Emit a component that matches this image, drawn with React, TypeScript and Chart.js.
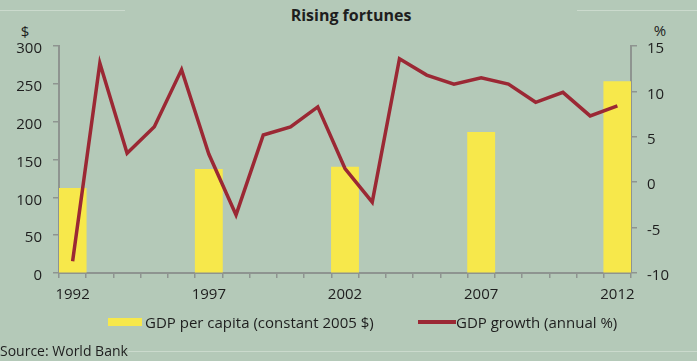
import React, { useEffect, useRef } from "react";
import { Chart, registerables } from "chart.js";

Chart.register(...registerables);

const years = [
  "1992", "1993", "1994", "1995", "1996", "1997", "1998", "1999", "2000", "2001",
  "2002", "2003", "2004", "2005", "2006", "2007", "2008", "2009", "2010", "2011", "2012",
];
const gdpPerCapita: (number | null)[] = [
  112, null, null, null, null, 137, null, null, null, null,
  140, null, null, null, null, 186, null, null, null, null, 253,
];
const gdpGrowth = [
  -8.7, 13.1, 3.2, 6.1, 12.4, 3.1, -3.6, 5.2, 6.1, 8.3,
  1.5, -2.2, 13.6, 11.8, 10.8, 11.5, 10.8, 8.8, 9.9, 7.3, 8.4,
];
const leftTicks = [0, 300, 50];
const rightTicks = [-10, 15, 5];

const BG = "#b4c9b8";
const YELLOW = "#f7e84b";
const RED = "#9b2834";
const AXIS = "#8e9490";
const TEXT = "#1e1e1e";
const FONT = "'Open Sans', sans-serif";

export default function App() {
  const ref = useRef<HTMLCanvasElement | null>(null);

  useEffect(() => {
    document.body.style.margin = "0";
    const canvas = ref.current;
    if (!canvas) return;
    const chart = new Chart(canvas, {
      type: "bar",
      data: {
        labels: years,
        datasets: [
          {
            type: "bar",
            label: "GDP per capita (constant 2005 $)",
            data: gdpPerCapita,
            backgroundColor: YELLOW,
            borderWidth: 0,
            barPercentage: 1,
            categoryPercentage: 1,
            yAxisID: "y",
            order: 2,
          },
          {
            type: "line",
            label: "GDP growth (annual %)",
            data: gdpGrowth,
            borderColor: RED,
            borderWidth: 3.5,
            pointRadius: 0,
            tension: 0,
            fill: false,
            yAxisID: "y1",
            order: 1,
          },
        ],
      },
      options: {
        animation: false,
        responsive: false,
        maintainAspectRatio: false,
        layout: { padding: { top: 46, left: 0, right: 0, bottom: 0 } },
        plugins: {
          legend: { display: false },
          title: { display: false },
          tooltip: { enabled: false },
        },
        scales: {
          x: {
            offset: true,
            grid: {
              offset: true,
              drawOnChartArea: false,
              drawTicks: true,
              tickLength: 5,
              color: AXIS,
              lineWidth: 1.5,
            },
            border: { display: true, color: AXIS, width: 2 },
            ticks: {
              autoSkip: false,
              maxRotation: 0,
              padding: 8,
              color: TEXT,
              font: { family: FONT, size: 15 },
              callback: (_v: any, i: number) => (i % 5 === 0 ? years[i] : ""),
            },
            afterFit: (s: any) => {
              s.height = 88;
            },
          },
          y: {
            position: "left",
            min: leftTicks[0],
            max: leftTicks[1],
            grid: {
              drawOnChartArea: false,
              drawTicks: true,
              tickLength: 6,
              color: AXIS,
              lineWidth: 1.5,
            },
            border: { display: true, color: AXIS, width: 2 },
            ticks: {
              stepSize: leftTicks[2],
              padding: 11,
              labelOffset: 3,
              color: TEXT,
              font: { family: FONT, size: 15 },
            },
            afterFit: (s: any) => {
              s.width = 59;
            },
          },
          y1: {
            position: "right",
            min: rightTicks[0],
            max: rightTicks[1],
            grid: {
              drawOnChartArea: false,
              drawTicks: true,
              tickLength: 6,
              color: AXIS,
              lineWidth: 1.5,
            },
            border: { display: true, color: AXIS, width: 2 },
            ticks: {
              stepSize: rightTicks[2],
              padding: 10,
              labelOffset: 3,
              color: TEXT,
              font: { family: FONT, size: 15 },
            },
            afterFit: (s: any) => {
              s.width = 66;
            },
          },
        },
      },
    });
    return () => chart.destroy();
  }, []);

  const text: React.CSSProperties = {
    position: "absolute",
    fontFamily: FONT,
    color: TEXT,
    whiteSpace: "nowrap",
    lineHeight: "20px",
  };

  return (
    <div
      style={{
        position: "relative",
        width: 697,
        height: 361,
        background: BG,
        overflow: "hidden",
      }}
    >
      <div style={{ position: "absolute", left: 0, top: 10, width: 125, height: 1, background: "#cbdacd" }} />
      <div style={{ position: "absolute", left: 577, top: 10, width: 120, height: 1, background: "#cbdacd" }} />
      <div style={{ position: "absolute", left: 128, top: 351, width: 569, height: 1, background: "#cbdacd" }} />
      <div
        style={{
          ...text,
          left: 251,
          width: 200,
          textAlign: "center",
          top: 5,
          fontWeight: 700,
          fontSize: 16,
        }}
      >
        Rising fortunes
      </div>
      <div style={{ ...text, left: 15, width: 20, textAlign: "center", top: 21, fontSize: 15 }}>$</div>
      <div style={{ ...text, left: 648, width: 24, textAlign: "center", top: 20, fontSize: 15 }}>%</div>
      <canvas ref={ref} width={697} height={361} style={{ position: "absolute", left: 0, top: 0 }} />
      <div style={{ position: "absolute", left: 108, top: 318, width: 34, height: 8, background: YELLOW }} />
      <div style={{ ...text, left: 145, top: 312, fontSize: 15 }}>GDP per capita (constant 2005 $)</div>
      <div style={{ position: "absolute", left: 418, top: 320, width: 38, height: 3.5, background: RED }} />
      <div style={{ ...text, left: 456, top: 312, fontSize: 15 }}>GDP growth (annual %)</div>
      <div style={{ ...text, left: 0, top: 341, fontSize: 14 }}>Source: World Bank</div>
    </div>
  );
}
